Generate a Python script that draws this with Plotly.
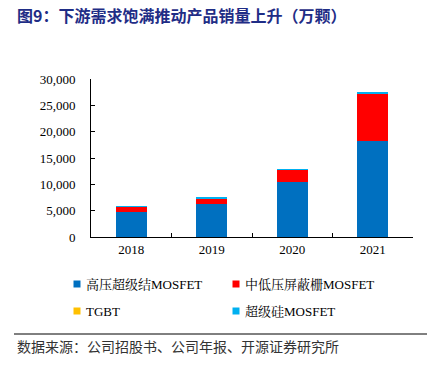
import plotly.graph_objects as go

years = ["2018", "2019", "2020", "2021"]
hv_sj = [4750, 6200, 10400, 18200]
mlv_sgt = [1000, 1200, 2450, 9100]
igbt = [0, 0, 0, 0]
super_si = [20, 30, 50, 150]
series_names = ["高压超级结MOSFET", "中低压屏蔽栅MOSFET", "TGBT", "超级硅MOSFET"]
colors = ["#0070C0", "#FF0000", "#FFC000", "#00B0F0"]
y_ticks = [0, 5000, 10000, 15000, 20000, 25000, 30000]

W, H = 432, 383
L, R, T, B = 91, 19, 79, 146
pw, ph = W - L - R, H - T - B

def px_x(x):
    return (x - L) / pw

def px_y(y):
    return (H - B - y) / ph

serif = "Liberation Serif, Times New Roman, Noto Serif CJK SC, Noto Sans CJK SC, serif"

fig = go.Figure()
for name, vals, c in zip(series_names, [hv_sj, mlv_sgt, igbt, super_si], colors):
    fig.add_trace(go.Bar(x=years, y=vals, name=name, marker=dict(color=c, line=dict(width=0)),
                         width=0.39, showlegend=False))

fig.update_layout(
    barmode="stack",
    width=W, height=H,
    margin=dict(l=L, r=R, t=T, b=B, autoexpand=False),
    plot_bgcolor="white", paper_bgcolor="white",
    font=dict(family=serif, size=13, color="#000000"),
    showlegend=False,
    title=dict(text="<b>图9：下游需求饱满推动产品销量上升（万颗）</b>", xref="container", yref="container",
               x=17 / W, y=1 - 16 / H, xanchor="left", yanchor="middle",
               font=dict(size=16, color="#1F2D86", family="Noto Sans CJK SC")),
    xaxis=dict(type="category", showline=True, linecolor="#000000", linewidth=1,
               ticks="inside", ticklen=4, tickcolor="#000000", tickson="boundaries",
               showgrid=False, tickfont=dict(size=13, family=serif)),
    yaxis=dict(range=[0, 30000], tickvals=y_ticks, tickformat=",d", showline=True,
               linecolor="#000000", linewidth=1, ticks="inside", ticklen=4, tickcolor="#000000",
               showgrid=False, zeroline=False, tickfont=dict(size=13, family=serif),
               ticklabelstandoff=12),
    bargap=0.61,
)

# manual legend (two columns, two rows)
leg_pos = [(77, 284), (236, 284), (77, 311), (236, 311)]
for name, c, (cx, cy) in zip(series_names, colors, leg_pos):
    fig.add_shape(type="rect", xref="paper", yref="paper",
                  x0=px_x(cx - 3.5), x1=px_x(cx + 3.5), y0=px_y(cy + 3.5), y1=px_y(cy - 3.5),
                  line=dict(width=0), fillcolor=c)
    fig.add_annotation(text=name, xref="paper", yref="paper", x=px_x(cx + 7), y=px_y(cy),
                       xanchor="left", yanchor="middle", showarrow=False,
                       font=dict(size=13, family=serif, color="#000000"))

fig.add_shape(type="line", xref="paper", yref="paper", x0=px_x(14), x1=px_x(427),
              y0=px_y(334), y1=px_y(334), line=dict(color="#000000", width=1))
fig.add_annotation(text="数据来源：公司招股书、公司年报、开源证券研究所", xref="paper", yref="paper",
                   x=px_x(15), y=px_y(346), xanchor="left", yanchor="middle", showarrow=False,
                   font=dict(size=14, color="#333333", family="Noto Sans CJK SC"))

fig.write_html("out.html", config={"displayModeBar": False},
               post_script="document.body.style.margin='0';")
